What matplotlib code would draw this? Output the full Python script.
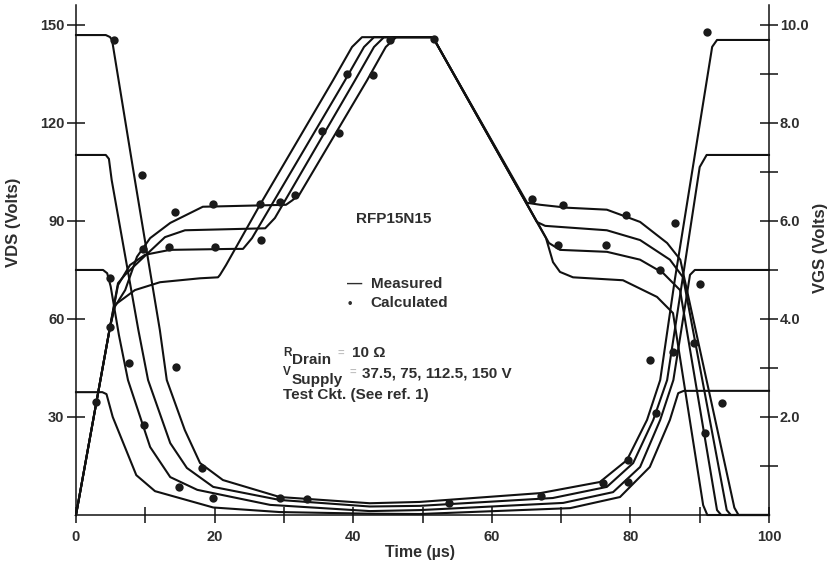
import matplotlib
matplotlib.use('Agg')
import matplotlib.pyplot as plt
from matplotlib.ticker import FixedLocator

plt.rcParams['font.family'] = ['Liberation Sans', 'DejaVu Sans']
plt.rcParams['font.weight'] = 'bold'
plt.rcParams['axes.linewidth'] = 1.1

INK = '#111111'
TXT = '#2e2e2e'

# drain-source voltage, measured (time in us, volts)
t_vds_150 = [0, 4.3, 4.9, 5.2, 8.5, 12.1, 13.1, 15.7, 17.9, 21.2, 29.4, 42.4, 49.6, 67.0, 75.6, 79.5, 82.4, 84.3, 86.4, 91.8, 92.5, 100]
v_vds_150 = [146.9, 146.9, 146.3, 145.4, 102.5, 56.6, 41.3, 26.0, 15.9, 10.7, 5.5, 3.6, 4.0, 6.7, 10.1, 16.8, 29.1, 41.3, 71.9, 143.3, 145.4, 145.4]

t_vds_112 = [0, 4.3, 4.75, 5.15, 9.0, 10.4, 13.6, 16.0, 19.8, 29.4, 42.4, 49.6, 68.8, 76.6, 80.4, 83.3, 85.3, 90.0, 91.0, 100]
v_vds_112 = [110.2, 110.2, 109.0, 102.5, 56.6, 41.3, 22.0, 14.4, 8.6, 4.6, 2.6, 2.8, 5.2, 8.6, 15.9, 29.1, 41.3, 106.5, 110.2, 110.2]

t_vds_75 = [0, 3.9, 4.5, 5.0, 6.2, 7.5, 10.7, 13.6, 17.5, 28.0, 42.4, 49.6, 70.3, 77.5, 81.4, 84.3, 86.2, 88.6, 89.3, 100]
v_vds_75 = [75.0, 75.0, 74.0, 70.0, 55.0, 41.3, 20.8, 11.6, 7.7, 3.1, 1.2, 1.5, 3.7, 7.0, 14.7, 29.1, 41.3, 73.5, 75.0, 75.0]

t_vds_37 = [0, 3.8, 4.4, 5.3, 8.7, 11.4, 19.8, 29.4, 42.4, 49.6, 71.3, 78.5, 82.8, 85.7, 86.9, 87.7, 100]
v_vds_37 = [37.6, 37.6, 37.0, 30.0, 12.2, 7.3, 2.3, 0.9, 0.4, 0.3, 2.1, 5.5, 14.7, 29.1, 37.3, 38.0, 38.0]

# gate-source voltage, measured (time in us, volts)
t_vgs_150 = [0, 4.9, 5.6, 7.1, 8.8, 10.7, 13.6, 18.3, 30.3, 31.2, 32.2, 42.0, 44.7, 46.2, 51.5, 65.1, 67.0, 70.9, 76.6, 79.5, 81.4, 85.3, 87.2, 95.0, 95.6, 100]
v_vgs_150 = [0, 3.83, 4.25, 4.59, 5.27, 5.65, 5.96, 6.29, 6.33, 6.42, 6.53, 8.87, 9.55, 9.75, 9.75, 6.37, 6.33, 6.27, 6.23, 6.08, 5.98, 5.55, 5.21, 0.15, 0, 0]

t_vgs_112 = [0, 4.9, 6.06, 7.07, 9.67, 12.84, 15.73, 27.3, 28.7, 40.26, 43.0, 44.44, 51.5, 66.5, 67.7, 76.6, 81.4, 85.7, 87.6, 93.9, 94.5, 100]
v_vgs_112 = [0, 3.83, 4.73, 4.90, 5.25, 5.67, 5.81, 5.85, 6.06, 8.87, 9.55, 9.75, 9.75, 5.98, 5.90, 5.81, 5.61, 5.21, 4.85, 0.1, 0, 0]

t_vgs_75 = [0, 4.9, 6.06, 7.79, 9.96, 13.56, 22.66, 24.1, 25.4, 38.82, 41.56, 43.0, 51.5, 68.25, 69.84, 76.62, 81.39, 84.7, 87.16, 92.5, 93.1, 100]
v_vgs_75 = [0, 3.83, 4.69, 5.10, 5.31, 5.41, 5.43, 5.43, 5.65, 8.87, 9.55, 9.75, 9.75, 5.55, 5.41, 5.37, 5.21, 4.94, 4.59, 0.1, 0, 0]

t_vgs_37 = [0, 4.9, 5.63, 8.51, 12.12, 17.89, 20.49, 20.78, 21.65, 26.55, 37.09, 39.83, 41.27, 51.5, 67.82, 68.83, 69.84, 71.72, 78.93, 83.84, 86.15, 90.5, 91.1, 100]
v_vgs_37 = [0, 3.83, 4.29, 4.59, 4.75, 4.83, 4.85, 4.90, 5.10, 6.33, 8.87, 9.55, 9.75, 9.75, 5.65, 5.16, 4.96, 4.85, 4.79, 4.45, 4.12, 0.2, 0, 0]

# calculated points
t_calc_vds = [5.48, 9.52, 4.91, 7.65, 14.43, 9.81, 18.18, 14.86, 19.77, 29.44, 33.3, 53.8, 67.1, 76.05, 79.65, 79.65, 83.69, 82.83, 86.15, 86.44, 91.05]
v_calc_vds = [145.4, 104.1, 72.5, 46.5, 45.3, 27.5, 14.4, 8.6, 5.2, 5.2, 4.9, 3.7, 5.8, 9.8, 10.1, 16.8, 31.2, 47.4, 49.9, 89.4, 147.8]

t_calc_vgs = [2.89, 4.91, 14.29, 19.77, 26.55, 9.67, 13.42, 20.06, 26.7, 29.44, 31.6, 35.5, 37.95, 39.11, 42.86, 45.31, 51.66,
              65.8, 70.27, 79.37, 69.55, 76.48, 84.27, 90.04, 89.18, 93.22, 90.76]
v_calc_vgs = [2.31, 3.83, 6.18, 6.35, 6.35, 5.43, 5.47, 5.47, 5.61, 6.39, 6.53, 7.83, 7.79, 9.0, 8.98, 9.69, 9.71,
              6.45, 6.33, 6.12, 5.51, 5.51, 5.0, 4.71, 3.51, 2.29, 1.67]

vds_ticks = [30, 60, 90, 120, 150]
vgs_major = [2, 4, 6, 8, 10]
vgs_minor = [1, 3, 5, 7, 9]
t_major = [0, 20, 40, 60, 80, 100]
t_minor = [10, 30, 50, 70, 90]

W, H = 831, 565
fig = plt.figure(figsize=(W / 100, H / 100), dpi=100)
ax = fig.add_axes([76 / W, 50 / H, 693 / W, 510 / H])
ax2 = ax.twinx()

vtop = 156.1
ax.set_xlim(0, 100)
ax.set_ylim(0, vtop)
ax2.set_ylim(0, vtop / 15)

lw = 1.5
for t, v in [(t_vds_150, v_vds_150), (t_vds_112, v_vds_112), (t_vds_75, v_vds_75), (t_vds_37, v_vds_37)]:
    ax.plot(t, v, color=INK, lw=lw, solid_joinstyle='round', clip_on=False)
for t, v in [(t_vgs_150, v_vgs_150), (t_vgs_112, v_vgs_112), (t_vgs_75, v_vgs_75), (t_vgs_37, v_vgs_37)]:
    ax2.plot(t, v, color=INK, lw=lw, solid_joinstyle='round', clip_on=False)

ax.plot(t_calc_vds, v_calc_vds, 'o', color='#1a1a1a', ms=6, mec='none', clip_on=False)
ax2.plot(t_calc_vgs, v_calc_vgs, 'o', color='#1a1a1a', ms=6, mec='none', clip_on=False)

# spines and ticks
ax.spines['top'].set_visible(False)
ax.spines['right'].set_visible(False)
ax2.spines['top'].set_visible(False)
ax2.spines['left'].set_visible(False)
ax2.spines['bottom'].set_visible(False)
for s in ['left', 'bottom']:
    ax.spines[s].set_color(INK)
ax2.spines['right'].set_color(INK)

ax.xaxis.set_major_locator(FixedLocator(t_major))
ax.xaxis.set_minor_locator(FixedLocator(t_minor))
ax.yaxis.set_major_locator(FixedLocator(vds_ticks))
ax2.yaxis.set_major_locator(FixedLocator(vgs_major))
ax2.yaxis.set_minor_locator(FixedLocator(vgs_minor))

ax.set_xticklabels([str(x) for x in t_major])
ax.set_yticklabels([str(y) for y in vds_ticks])
ax2.set_yticklabels(['%.1f' % y for y in vgs_major])

ax.tick_params(axis='x', which='both', direction='inout', length=11, width=1.1, color=INK,
               labelsize=10.5, labelcolor=TXT, pad=5)
ax.tick_params(axis='y', which='major', direction='inout', length=13.5, width=1.1, color=INK,
               labelsize=10.5, labelcolor=TXT, pad=1.5)
ax2.tick_params(axis='y', which='both', direction='inout', length=13.5, width=1.1, color=INK,
                labelsize=10.5, labelcolor=TXT, pad=1)

def px(x, y):
    return x / W, 1 - y / H

fig.text(*px(14, 222), 'VDS (Volts)', rotation=90, ha='center', va='center', fontsize=12, color=TXT)
fig.text(*px(820, 248), 'VGS (Volts)', rotation=90, ha='center', va='center', fontsize=12, color=TXT)
fig.text(*px(420, 552), 'Time (µs)', ha='center', va='center', fontsize=11.5, color=TXT)

fig.text(*px(394, 219), 'RFP15N15', ha='center', va='center', fontsize=11, color=TXT)
fig.text(*px(347, 284), '—', ha='left', va='center', fontsize=11, color=TXT)
fig.text(*px(371, 284), 'Measured', ha='left', va='center', fontsize=11, color=TXT)
fig.text(*px(350, 304), '•', ha='center', va='center', fontsize=9, color=TXT)
fig.text(*px(370, 303), 'Calculated', ha='left', va='center', fontsize=11, color=TXT)

fig.text(*px(283, 353), 'R', ha='left', va='center', fontsize=8.5, color=TXT)
fig.text(*px(292, 360), 'Drain', ha='left', va='center', fontsize=11, color=TXT)
fig.text(*px(338, 353), '=', ha='left', va='center', fontsize=8, color='#bdbdbd')
fig.text(*px(352, 353), '10 Ω', ha='left', va='center', fontsize=11, color=TXT)
fig.text(*px(283, 372), 'V', ha='left', va='center', fontsize=8.5, color=TXT)
fig.text(*px(292, 380), 'Supply', ha='left', va='center', fontsize=11, color=TXT)
fig.text(*px(350, 372), '=', ha='left', va='center', fontsize=8, color='#bdbdbd')
fig.text(*px(362, 373), '37.5, 75, 112.5, 150 V', ha='left', va='center', fontsize=11, color=TXT)
fig.text(*px(283, 395), 'Test Ckt. (See ref. 1)', ha='left', va='center', fontsize=11, color=TXT)

fig.savefig('out.png', dpi=100)
